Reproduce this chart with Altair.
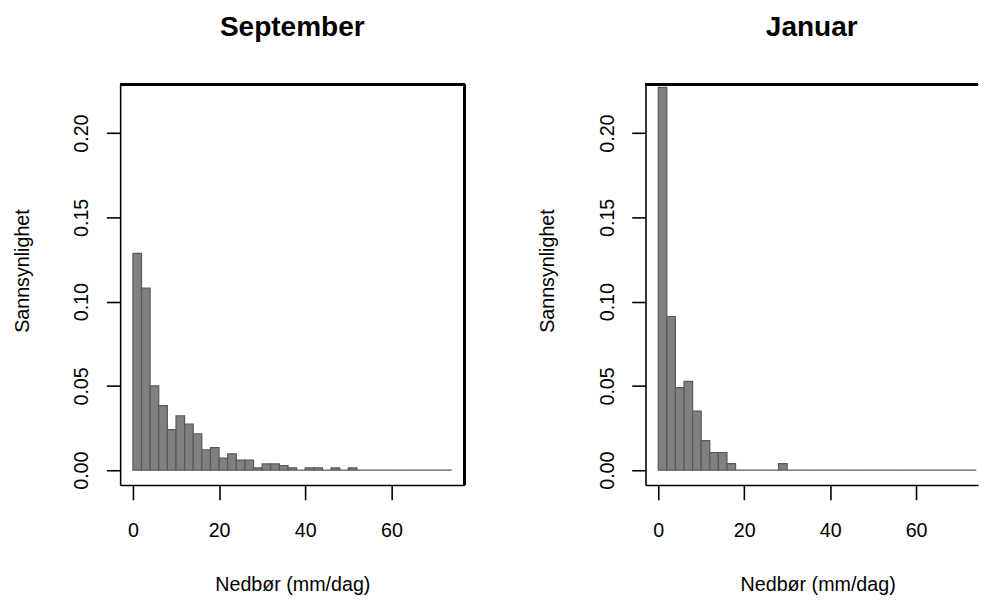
import altair as alt
import pandas as pd

# Histogram bins (mm/dag), width 2
bin_start = [0, 2, 4, 6, 8, 10, 12, 14, 16, 18, 20, 22, 24, 26, 28, 30, 32, 34, 36,
             38, 40, 42, 44, 46, 48, 50, 52, 54, 56, 58, 60, 62, 64, 66, 68, 70, 72]
bin_end = [2, 4, 6, 8, 10, 12, 14, 16, 18, 20, 22, 24, 26, 28, 30, 32, 34, 36, 38,
           40, 42, 44, 46, 48, 50, 52, 54, 56, 58, 60, 62, 64, 66, 68, 70, 72, 74]

sep_density = [0.1287, 0.1080, 0.0500, 0.0383, 0.0241, 0.0323, 0.0274, 0.0216, 0.0120,
               0.0134, 0.0072, 0.0097, 0.0060, 0.0060, 0.0014, 0.0037, 0.0037, 0.0027,
               0.0014, 0.0, 0.0014, 0.0014, 0.0, 0.0014, 0.0, 0.0014, 0.0, 0.0, 0.0,
               0.0, 0.0, 0.0, 0.0, 0.0, 0.0, 0.0, 0.0]
jan_density = [0.2272, 0.0912, 0.0490, 0.0527, 0.0350, 0.0175, 0.0105, 0.0105, 0.0039,
               0.0, 0.0, 0.0, 0.0, 0.0, 0.0039, 0.0, 0.0, 0.0, 0.0, 0.0, 0.0, 0.0, 0.0,
               0.0, 0.0, 0.0, 0.0, 0.0, 0.0, 0.0, 0.0, 0.0, 0.0, 0.0, 0.0, 0.0, 0.0]

x_ticks = [0, 20, 40, 60]
y_ticks = [0.0, 0.05, 0.10, 0.15, 0.20]

FONT = "Liberation Sans"
H = 407


def panel(density, title, xmax, width, right_border):
    df = pd.DataFrame({"start": bin_start, "end": bin_end, "density": density})
    xs = alt.Scale(domain=[-2.96, xmax], nice=False, zero=False)
    ys = alt.Scale(domain=[-0.0088, 0.2288], nice=False, zero=False)
    bars = alt.Chart(df).mark_rect(fill="#808080", stroke="#5a5a5a", strokeWidth=1.2).encode(
        x=alt.X("start:Q", scale=xs, axis=alt.Axis(
            values=x_ticks, format="d", grid=False,
            domain=True, domainColor="black", domainWidth=1.6,
            ticks=True, tickColor="black", tickWidth=1.6, tickSize=15,
            labelFont=FONT, labelFontSize=20, labelColor="black",
            labelBaseline="alphabetic", labelPadding=37, labelFlush=False,
            title="Nedbør (mm/dag)", titleFont=FONT, titleFontSize=20,
            titleFontWeight="normal", titleColor="black",
            titleBaseline="alphabetic", titleAlign="center", titleX=175, titleY=107)),
        x2="end:Q",
        y=alt.Y("density:Q", scale=ys, axis=alt.Axis(
            values=y_ticks, format=".2f", grid=False,
            domain=True, domainColor="black", domainWidth=1.6,
            ticks=True, tickColor="black", tickWidth=1.6, tickSize=14,
            labelFont=FONT, labelFontSize=20, labelColor="black",
            labelAngle=270, labelAlign="center", labelBaseline="alphabetic",
            labelPadding=19, labelFlush=False,
            title="Sannsynlighet", titleFont=FONT, titleFontSize=20,
            titleFontWeight="normal", titleColor="black", titleAngle=270,
            titleBaseline="alphabetic", titleAlign="center", titleX=-93, titleY=189)),
        y2=alt.datum(0),
    )
    top = alt.Chart(df).mark_rule(color="black", strokeWidth=1.6).encode(
        x=alt.value(0), x2=alt.value(width), y=alt.value(0))
    layers = [bars, top]
    if right_border:
        right = alt.Chart(df).mark_rule(color="black", strokeWidth=1.6).encode(
            x=alt.value(width), y=alt.value(0), y2=alt.value(H))
        layers.append(right)
    return alt.layer(*layers).properties(
        width=width, height=H,
        title=alt.TitleParams(title, font=FONT, fontSize=28.5, fontWeight="bold",
                              color="black", anchor="middle", baseline="alphabetic",
                              offset=20),
    )


left = panel(sep_density, "September", 76.96, 350, True)
right = panel(jan_density, "Januar", 74.4, 338, False)

chart = alt.hconcat(left, right, spacing=74).properties(
    padding={"left": 5, "top": 0, "right": 0, "bottom": 0},
    background="white",
).configure_view(strokeWidth=0)

chart.save("out.html", embed_options={"renderer": "svg", "actions": False})
